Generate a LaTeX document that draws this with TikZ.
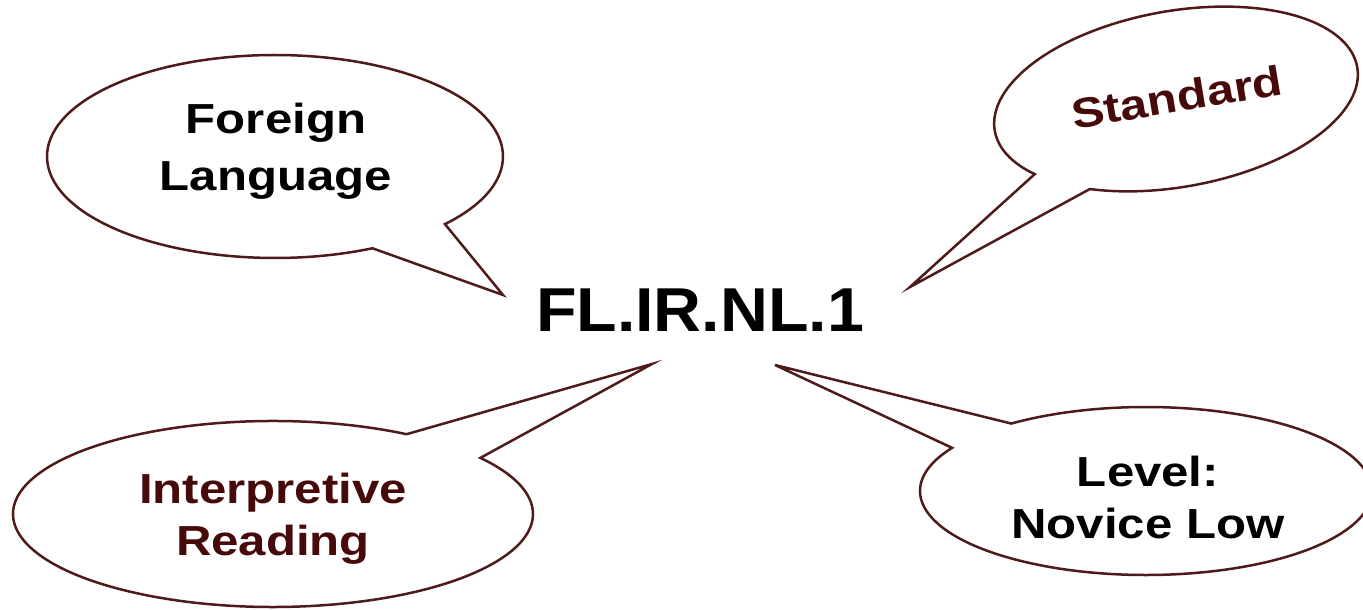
\documentclass[tikz,border=0pt]{standalone}
\usepackage{fontspec}
\setmainfont{Liberation Sans}
\newfontfamily\widefont[FakeStretch=1.17]{Liberation Sans}
\newfontfamily\codefont[FakeStretch=1.07]{Liberation Sans}
\usetikzlibrary{calc}
\definecolor{edgecol}{RGB}{78,26,26}
\definecolor{maroontext}{RGB}{70,10,10}
\begin{document}
\begin{tikzpicture}[x=1pt,y=1pt,
  bubble/.style={draw=edgecol, line width=2.5pt, fill=white, line join=miter},
  lbl/.style={font=\widefont\bfseries\fontsize{42}{52}\selectfont, align=center, inner sep=0pt, anchor=north},
  codelbl/.style={font=\codefont\bfseries\fontsize{62}{70}\selectfont, inner sep=0pt, anchor=base}]
\useasboundingbox (0,0) rectangle (1363,610);
\clip (0,0) rectangle (1363,610);
% centres and tips
\coordinate (tlc) at (275,453.5);
\coordinate (tltip) at (503,315);
\coordinate (trc) at (1176,511);
\coordinate (trtip) at (910,323);
\coordinate (blc) at (273,96);
\coordinate (bltip) at (652,246);
\coordinate (brc) at (1146,119);
\coordinate (brtip) at (775,245);
% top-left bubble
\draw[bubble] ($(tlc)+(-41.8:228pt and 101.5pt)$)
  arc[start angle=-41.8, end angle=295.3, x radius=228pt, y radius=101.5pt]
  -- (tltip) -- cycle;
% top-right bubble (tilted)
\begin{scope}[shift={(trc)}, rotate=10]
\draw[bubble] (236.9:184pt and 88pt)
  arc[start angle=236.9, end angle=574.2, x radius=184pt, y radius=88pt]
  -- (trtip) -- cycle;
\end{scope}
% bottom-left bubble
\draw[bubble] ($(blc)+(59.1:260pt and 93pt)$)
  arc[start angle=59.1, end angle=397.1, x radius=260pt, y radius=93pt]
  -- (bltip) -- cycle;
% bottom-right bubble
\draw[bubble] ($(brc)+(149.1:226pt and 84pt)$)
  arc[start angle=149.1, end angle=486.6, x radius=226pt, y radius=84pt]
  -- (brtip) -- cycle;
% texts
\node[lbl, font=\widefont\bfseries\fontsize{42}{57}\selectfont] (fl) at (276,516.9)
  {\strut Foreign\\\strut Language};
\node[lbl, anchor=center, rotate=9.5, text=maroontext] (std) at (1177,513)
  {Standard};
\node[lbl, text=maroontext] (ir) at (273,143.4)
  {\strut Interpretive\\\strut Reading};
\node[lbl] (lvl) at (1148,160.4)
  {\strut Level:\\\strut Novice Low};
\node[codelbl] (code) at (700,278) {FL.IR.NL.1};
\end{tikzpicture}
\end{document}
